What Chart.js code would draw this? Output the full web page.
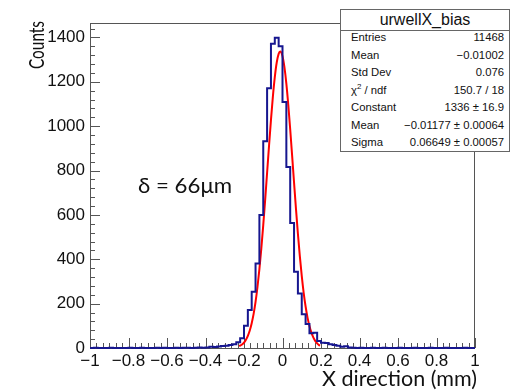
<!DOCTYPE html>
<html><head><meta charset="utf-8">
<script src="https://cdn.jsdelivr.net/npm/chart.js@4/dist/chart.umd.min.js"></script>
<style>
html,body{margin:0;padding:0;background:#fff;}
#wrap{position:relative;width:513px;height:390px;overflow:hidden;}
#c{position:absolute;left:0;top:0;}
#stats{position:absolute;left:340px;top:9px;width:170px;height:143px;background:#fff;border:1px solid #666;font-family:"Liberation Sans",Arial,sans-serif;color:#111;box-sizing:border-box;overflow:hidden;}
#stats .ttl{height:20px;line-height:20px;text-align:center;font-size:16px;border-bottom:1px solid #666;}
#stats .rows{margin-top:-2px;}
#stats .row{display:flex;justify-content:space-between;height:17.5px;line-height:17.5px;font-size:11.3px;padding:0 5px 0 10px;}
#stats sup{font-size:8px;line-height:0;}
</style></head><body>
<div id="wrap"><canvas id="c" width="513" height="390"></canvas>
<div id="stats"></div></div>
<script>
// ---- data ----
const histName = "urwellX_bias";
const binLow = -1;
const binWidth = 0.02;
const counts = [
 0,0,1,0,0,0,1,0,0,0, 0,1,0,0,1,0,0,0,1,0,
 1,0,0,1,0,1,1,0,1,2, 1,2,6,5,7,9,10,13,17,26,
 44,100,171,253,381,599,932,1171,1372,1399,
 1360,1109,816,564,344,246,152,108,66,69,
 31,24,22,17,14,10,6,8,2,1, 0,1,0,0,1,0,0,1,0,0,
 0,1,0,0,0,1,0,0,0,1, 0,0,0,1,0,0,0,0,1,0
];
const fitX = [-0.225,-0.21,-0.20,-0.19,-0.18,-0.17,-0.16,-0.15,-0.14,-0.13,-0.12,-0.11,-0.10,-0.09,-0.08,-0.07,-0.06,-0.05,-0.04,-0.03,-0.02,-0.012,0.00,0.01,0.02,0.03,0.04,0.05,0.06,0.07,0.08,0.09,0.10,0.11,0.12,0.13,0.14,0.15,0.16,0.17,0.18,0.19,0.195];
const fitY = [7.8,16,24,37,55,79,112,154,208,275,356,449,554,669,790,911,1027,1133,1221,1287,1326,1336,1315,1266,1192,1096,986,867,746,627,515,414,325,249,187,137,99,69,48,32,21,13,10.6];
const xTickVals = [-1,-0.8,-0.6,-0.4,-0.2,0,0.2,0.4,0.6,0.8,1];
const yTickVals = [0,200,400,600,800,1000,1200,1400];
const statsRows = [
 ["Entries","11468"],["Mean","\u22120.01002"],["Std Dev","0.076"],
 ["\u03c7<sup>2</sup> / ndf","150.7 / 18"],["Constant","1336 \u00b1 16.9"],
 ["Mean","\u22120.01177 \u00b1 0.00064"],["Sigma","0.06649 \u00b1 0.00057"]
];
const xTitle = "X direction (mm)";
const yTitle = "Counts";
const note = "\u03b4 = 66\u03bcm";

// ---- stats box ----
const sb = document.getElementById('stats');
sb.innerHTML = '<div class="ttl">'+histName+'</div><div class="rows">' + statsRows.map(r=>'<div class="row"><span>'+r[0]+'</span><span>'+r[1]+'</span></div>').join('') + '</div>';

// ---- histogram as step points ----
const histPts = [];
counts.forEach((v,i)=>{ histPts.push({x: binLow + i*binWidth, y: v}); });
histPts.push({x: binLow + counts.length*binWidth, y: counts[counts.length-1]});
const fitPts = fitX.map((x,i)=>({x:x, y:fitY[i]}));

const fmt = v => { const r = Math.round(v*10)/10; return (r<0?'\u2212':'') + String(Math.abs(r)); };

function fitText(ctx, text, font, x, y, width, align){
 ctx.save();
 ctx.font = font;
 const w = ctx.measureText(text).width;
 ctx.translate(x, y);
 ctx.scale(width / w, 1);
 ctx.textAlign = align; ctx.textBaseline = 'alphabetic';
 ctx.fillText(text, 0, 0);
 ctx.restore();
}

const decor = {
 id:'decor',
 beforeDatasetsDraw(chart){
  const ctx = chart.ctx, a = chart.chartArea, xs = chart.scales.x, ys = chart.scales.y;
  ctx.save();
  ctx.strokeStyle = '#555'; ctx.lineWidth = 1;
  ctx.strokeRect(a.left+0.5, a.top+0.5, a.right-a.left-1, a.bottom-a.top);
  ctx.beginPath();
  for (let k=0;k<=60;k++){
   const v = -1 + k/30; const px = Math.round(xs.getPixelForValue(v))+0.5;
   const L = (k%6===0)?10:5;
   ctx.moveTo(px, a.bottom); ctx.lineTo(px, a.bottom-L);
  }
  for (let k=0;k<=36;k++){
   const v = k*40; if (v>ys.max) break; const py = Math.round(ys.getPixelForValue(v))+0.5;
   const L = (k%5===0)?10:5;
   ctx.moveTo(a.left, py); ctx.lineTo(a.left+L, py);
  }
  ctx.stroke();
  ctx.restore();
 },
 afterDraw(chart){
  const ctx = chart.ctx, a = chart.chartArea;
  ctx.save();
  ctx.fillStyle = '#111';
  fitText(ctx, xTitle, '21px Lato', 477, 385.5, 155, 'right');
  ctx.translate(44, 21);
  ctx.rotate(-Math.PI/2);
  fitText(ctx, yTitle, '22px Lato', 0, 0, 48, 'right');
  ctx.restore();
  ctx.save();
  ctx.fillStyle = '#111';
  fitText(ctx, note, '22px Lato', 138, 193, 94, 'left');
  ctx.restore();
 }
};

new Chart(document.getElementById('c'), {
 type:'line',
 data:{ datasets:[
  {data: histPts, stepped:'after', borderColor:'#16168f', borderWidth:2, pointRadius:0, fill:false, clip:3},
  {data: fitPts, borderColor:'#ff0000', borderWidth:2, pointRadius:0, fill:false, cubicInterpolationMode:'monotone', clip:3}
 ]},
 options:{
  responsive:false, animation:false, devicePixelRatio:1,
  layout:{padding:{left:0,right:38,top:23,bottom:0}},
  plugins:{legend:{display:false}, tooltip:{enabled:false}},
  scales:{
   x:{type:'linear', min:-1, max:1, grid:{display:false, drawTicks:false}, border:{display:false},
      afterBuildTicks: s => { s.ticks = xTickVals.map(v=>({value:v})); },
      afterFit: s => { s.height = 42; },
      ticks:{callback: v => fmt(v), color:'#111', font:{family:'"Liberation Sans"', size:17}, padding:3.5, maxRotation:0, autoSkip:false}},
   y:{type:'linear', min:0, max:1465, grid:{display:false, drawTicks:false}, border:{display:false},
      afterBuildTicks: s => { s.ticks = yTickVals.map(v=>({value:v})); },
      afterFit: s => { s.width = 90; },
      ticks:{callback: v => String(v), color:'#111', font:{family:'"Liberation Sans"', size:17}, padding:5}}
  }
 },
 plugins:[decor]
});
</script>
</body></html>
